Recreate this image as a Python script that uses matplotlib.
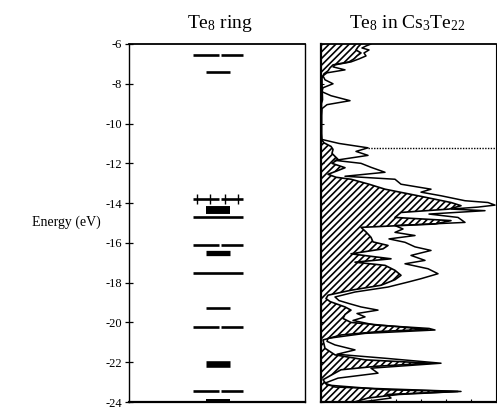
import matplotlib
matplotlib.use("Agg")
import matplotlib.pyplot as plt
import numpy as np

# molecular orbital levels of the isolated ring (eV)
level_energy = [-6.55, -7.4, -13.8, -14.35, -14.7, -16.1, -16.5, -17.5,
                -19.25, -20.25, -22.1, -23.45, -23.95]
level_kind = ["pair", "center", "pair", "center", "full", "pair", "center",
              "full", "center", "pair", "center", "pair", "center"]
level_weight = [1, 1, 1, 3, 1, 1, 2, 1, 1, 1, 2.5, 1, 1.5]
crossed_levels = [-13.8]

# total DOS outline
total_e = [-5.9, -6.0, -6.1, -6.2, -6.3, -6.45, -6.6, -6.75, -6.9, -7.05, -7.15,
           -7.3, -7.45, -7.6, -7.8, -8.0, -8.2, -8.4, -8.6, -8.85, -9.05, -9.25,
           -9.6, -10.5, -10.8, -11.0, -11.22, -11.4, -11.6, -11.85, -12.0, -12.2,
           -12.45, -12.65, -12.8, -13.05, -13.3, -13.45, -13.63, -13.88, -13.97,
           -14.1, -14.2, -14.3, -14.38, -14.55, -14.72, -14.97, -15.13, -15.3,
           -15.47, -15.63, -15.8, -15.97, -16.2, -16.38, -16.63, -16.88, -17.05,
           -17.3, -17.55, -17.8, -17.97, -18.22, -18.47, -18.72, -18.9, -19.05,
           -19.22, -19.38, -19.55, -19.72, -19.9, -20.13, -20.3, -20.38, -20.55,
           -20.8, -20.95, -21.13, -21.38, -21.6, -21.8, -22.05, -22.3, -22.55,
           -22.8, -23.05, -23.25, -23.47, -23.62, -23.8, -23.95, -24.1]
total_dos = [50, 50, 45, 41, 48, 43, 45, 38, 30, 14, 12,
             24, 6, 2, 4, 12, 2, 1, 10, 29, 6, 1,
             0.5, 0.5, 1, 18, 47, 35, 47, 14, 40, 50,
             64, 24, 74, 80, 110, 100, 120, 144, 167,
             174, 157, 130, 164, 108, 137, 144, 74, 82,
             74, 94, 68, 84, 94, 110, 90, 104, 84,
             107, 117, 100, 87, 67, 34, 14, 18, 28,
             40, 57, 36, 44, 32, 54, 108, 114, 44,
             7, 6, 14, 34, 16, 64, 120, 50, 57,
             17, 4, 14, 140, 66, 70, 48, 20]

# Te8 projected DOS (hatched)
te8_e = [-5.9, -6.0, -6.15, -6.3, -6.45, -6.6, -6.75, -6.9, -7.05, -7.2, -7.35,
         -7.5, -7.7, -8.0, -8.8, -9.0, -10.8, -10.97, -11.15, -11.3, -11.5, -11.8,
         -12.0, -12.22, -12.4, -12.55, -12.7, -12.8, -13.05, -13.3, -13.63,
         -13.97, -14.13, -14.3, -14.47, -14.72, -14.88, -15.05, -15.22, -15.45,
         -15.72, -15.95, -16.13, -16.3, -16.55, -16.8, -16.97, -17.13, -17.38,
         -17.63, -17.85, -18.13, -18.38, -18.63, -18.8, -18.95, -19.22, -19.38,
         -19.6, -19.8, -20.0, -20.35, -20.45, -20.63, -20.88, -21.3, -21.63,
         -21.88, -22.05, -22.2, -22.38, -22.6, -22.88, -23.15, -23.38, -23.47,
         -23.62, -23.8, -24.05, -24.1]
te8_dos = [40, 40, 37, 35, 40, 36, 33, 28, 12, 9, 7,
           3, 1, 1, 1.5, 0.5, 0.5, 3, 10, 12, 11, 17,
           11, 24, 15, 7, 15, 30, 48, 64, 97,
           130, 140, 128, 80, 74, 130, 114, 40, 45,
           50, 52, 67, 62, 30, 70, 34, 64, 74,
           80, 74, 60, 30, 7, 5, 9, 24, 30,
           24, 22, 30, 107, 60, 20, 2, 4, 14,
           44, 110, 56, 20, 12, 2, 6, 64, 137,
           78, 47, 30, 28]

fermi_level = -11.22
energy_ticks = list(range(-6, -25, -2))

plt.rcParams["font.family"] = ["Liberation Serif", "DejaVu Serif"]
plt.rcParams["mathtext.fontset"] = "custom"
plt.rcParams["mathtext.rm"] = "Liberation Serif"
plt.rcParams["mathtext.it"] = "Liberation Serif:italic"
plt.rcParams["axes.unicode_minus"] = False
plt.rcParams["hatch.linewidth"] = 1.2

fig = plt.figure(figsize=(4.97, 4.09), dpi=100)
ax_mo = fig.add_axes([129 / 497, 1 - 402 / 409, 176 / 497, 358 / 409])
ax_dos = fig.add_axes([321 / 497, 1 - 402 / 409, 175 / 497, 358 / 409])

# --- left panel: level diagram ---
seg_x = {
    "pair": [(0.364, 0.511), (0.523, 0.648)],
    "center": [(0.4375, 0.574)],
    "full": [(0.364, 0.650)],
}
for e, kind, w in zip(level_energy, level_kind, level_weight):
    for x0, x1 in seg_x[kind]:
        ax_mo.plot([x0, x1], [e, e], color="black", lw=1.9 * w,
                   solid_capstyle="butt")
for e in crossed_levels:
    ax_mo.plot([0.387, 0.460, 0.545, 0.620], [e] * 4, linestyle="none",
               marker="|", markersize=7, markeredgewidth=1.0, color="black")

ax_mo.set_xlim(0, 1)
ax_mo.set_ylim(-24, -6)
ax_mo.set_yticks(energy_ticks)
ax_mo.set_yticklabels([str(t) for t in energy_ticks])
ax_mo.set_xticks([])
ax_mo.tick_params(axis="y", direction="inout", length=6, width=0.9,
                  labelsize=9, pad=2)
for side, lw in [("left", 1.0), ("top", 1.3), ("right", 1.0), ("bottom", 1.6)]:
    ax_mo.spines[side].set_linewidth(lw)

# --- right panel: density of states ---
ax_dos.fill_betweenx(te8_e, 0, te8_dos, facecolor="white", edgecolor="black",
                     hatch="/////", linewidth=0)
ax_dos.plot(te8_dos, te8_e, color="black", lw=1.2)
ax_dos.plot(total_dos, total_e, color="black", lw=1.1)
ax_dos.hlines(fermi_level, 47, 175, colors="black", linestyles=(0, (1, 1)),
              lw=1.0)

ax_dos.set_xlim(0, 175)
ax_dos.set_ylim(-24, -6)
ax_dos.set_yticks(energy_ticks)
ax_dos.set_yticklabels([])
ax_dos.set_xticks(np.linspace(0, 175, 8)[1:-1])
ax_dos.set_xticklabels([])
ax_dos.tick_params(direction="in", length=2.5, width=0.8)
for side, lw in [("left", 1.6), ("top", 1.3), ("right", 0.8), ("bottom", 1.6)]:
    ax_dos.spines[side].set_linewidth(lw)

fig.text(220 / 497, 1 - 28 / 409, r"Te$_8$ ring", ha="center",
         va="baseline", fontsize=14)
fig.text(407 / 497, 1 - 28 / 409, r"Te$_8$ in Cs$_3$Te$_{22}$", ha="center",
         va="baseline", fontsize=14)
fig.text(32 / 497, 1 - 222 / 409, "Energy (eV)", ha="left", va="center",
         fontsize=10)

fig.savefig("out.png", dpi=100)
